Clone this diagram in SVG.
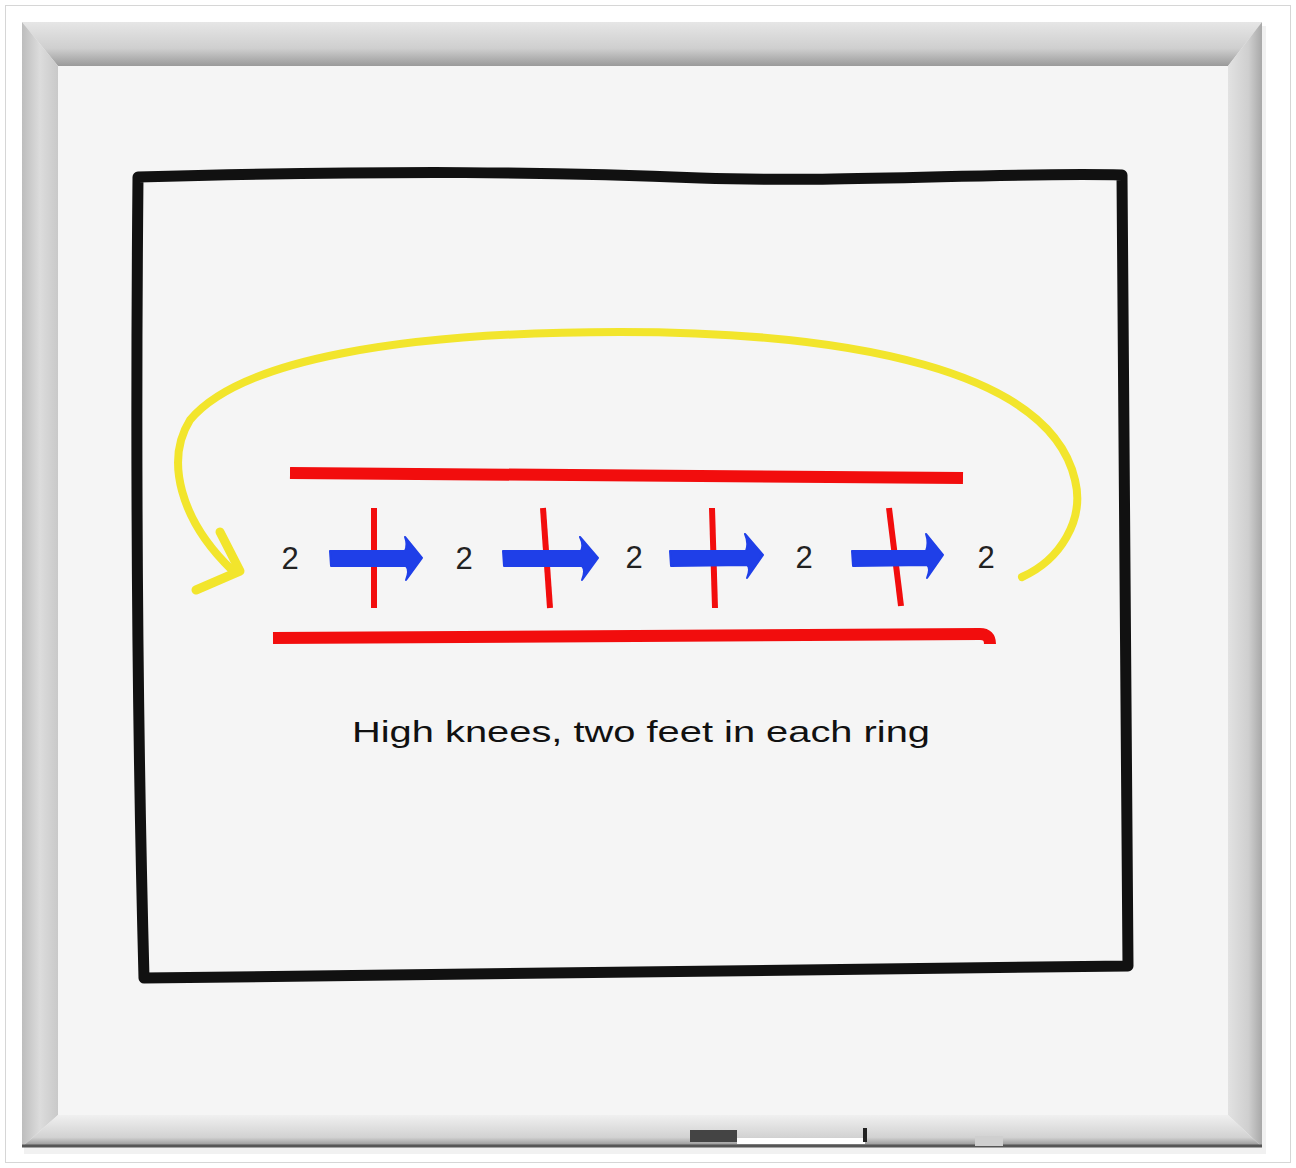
<svg xmlns="http://www.w3.org/2000/svg" width="1296" height="1168" viewBox="0 0 1296 1168">
<defs>
<linearGradient id="topg" x1="0" y1="0" x2="0" y2="1"><stop offset="0" stop-color="#e6e6e6"/><stop offset="0.6" stop-color="#cfcfcf"/><stop offset="1" stop-color="#9a9a9a"/></linearGradient>
<linearGradient id="botg" x1="0" y1="0" x2="0" y2="1"><stop offset="0" stop-color="#f0f0f0"/><stop offset="0.7" stop-color="#d2d2d2"/><stop offset="1" stop-color="#8a8a8a"/></linearGradient>
<linearGradient id="leftg" x1="0" y1="0" x2="1" y2="0"><stop offset="0" stop-color="#bdbdbd"/><stop offset="0.5" stop-color="#dcdcdc"/><stop offset="1" stop-color="#c9c9c9"/></linearGradient>
<linearGradient id="rightg" x1="0" y1="0" x2="1" y2="0"><stop offset="0" stop-color="#e2e2e2"/><stop offset="0.6" stop-color="#cfcfcf"/><stop offset="1" stop-color="#a8a8a8"/></linearGradient>
<style>
.red{fill:none;stroke:#f20d0d;stroke-linecap:butt}
.blue{fill:#1f3fe8;stroke:#1f3fe8;stroke-width:2;stroke-linejoin:round}
.num{font-family:"Liberation Sans",Arial,sans-serif;font-size:31px;fill:#222}
.lbl{font-family:"Liberation Sans",Arial,sans-serif;font-size:30px;fill:#111}
</style>
</defs>
<rect width="1296" height="1168" fill="#ffffff"/>
<rect x="5.5" y="5.5" width="1285" height="1157" fill="none" stroke="#d6d6d6"/>
<g id="whiteboard">
<rect x="24" y="26" width="1242" height="1128" fill="#e8e8e8" opacity="0.6"/>
<polygon points="22,22 1262,22 1228,66 58,66" fill="url(#topg)"/>
<polygon points="22,22 58,66 58,1115 22,1147" fill="url(#leftg)"/>
<polygon points="1262,22 1262,1147 1228,1115 1228,66" fill="url(#rightg)"/>
<polygon points="22,1147 58,1115 1228,1115 1262,1147" fill="url(#botg)"/>
<line x1="22" y1="1146" x2="1262" y2="1146" stroke="#555" stroke-width="3"/>
<rect x="58" y="66" width="1170" height="1049" fill="#f5f5f5"/>
<rect x="690" y="1130" width="47" height="12" fill="#444"/>
<rect x="737" y="1138" width="128" height="6" fill="#ffffff"/>
<rect x="863" y="1128" width="4" height="14" fill="#222"/>
<rect x="975" y="1136" width="28" height="10" fill="#cfcfcf"/>
</g>
<g id="frame">
<path d="M138,177 C400,170 560,172 700,178 C850,183 1000,172 1122,175 Q1126,560 1128,966 Q700,972 144,978 Q134,600 138,177 Z" fill="none" stroke="#111" stroke-width="11" stroke-linejoin="round"/>
</g>
<g id="connectors">
<path d="M1022,577 C1060,560 1085,520 1075,480 C1050,370 850,332 620,332 C400,332 240,360 190,420 C165,460 180,520 232,570" fill="none" stroke="#f2e52c" stroke-width="8" stroke-linecap="round"/>
<path d="M220,532 L240,571 L196,590" fill="none" stroke="#f2e52c" stroke-width="9" stroke-linecap="round" stroke-linejoin="round"/>
<line class="red" x1="290" y1="473" x2="963" y2="478" stroke-width="12"/>
<path class="red" d="M273,638 L980,634 Q990,634 990,644" stroke-width="12"/>
<line class="red" x1="374" y1="508" x2="374" y2="608" stroke-width="6"/>
<line class="red" x1="543" y1="508" x2="550" y2="608" stroke-width="6"/>
<line class="red" x1="712" y1="508" x2="715" y2="608" stroke-width="6"/>
<line class="red" x1="889" y1="508" x2="901" y2="606" stroke-width="6"/>
<path class="blue" d="M330,551 L405,551 Q408,545 405,537 L422,558 L406,580 Q410,570 406,566 L331,566 Z"/>
<path class="blue" d="M503,551 L581,551 Q584,545 580,537 L598,558 L582,580 Q586,570 582,566 L504,566 Z"/>
<path class="blue" d="M670,551 L746,551 Q749,543 745,534 L763,555 L747,578 Q751,568 747,565 L671,566 Z"/>
<path class="blue" d="M852,551 L926,551 Q929,543 926,534 L943,555 L927,578 Q931,568 927,565 L853,566 Z"/>
</g>
<g id="labels">
<text class="num" x="290" y="569" text-anchor="middle">2</text>
<text class="num" x="464" y="569" text-anchor="middle">2</text>
<text class="num" x="634" y="568" text-anchor="middle">2</text>
<text class="num" x="804" y="568" text-anchor="middle">2</text>
<text class="num" x="986" y="568" text-anchor="middle">2</text>
<text class="lbl" x="352" y="742" textLength="578" lengthAdjust="spacingAndGlyphs">High knees, two feet in each ring</text>
</g>
</svg>
